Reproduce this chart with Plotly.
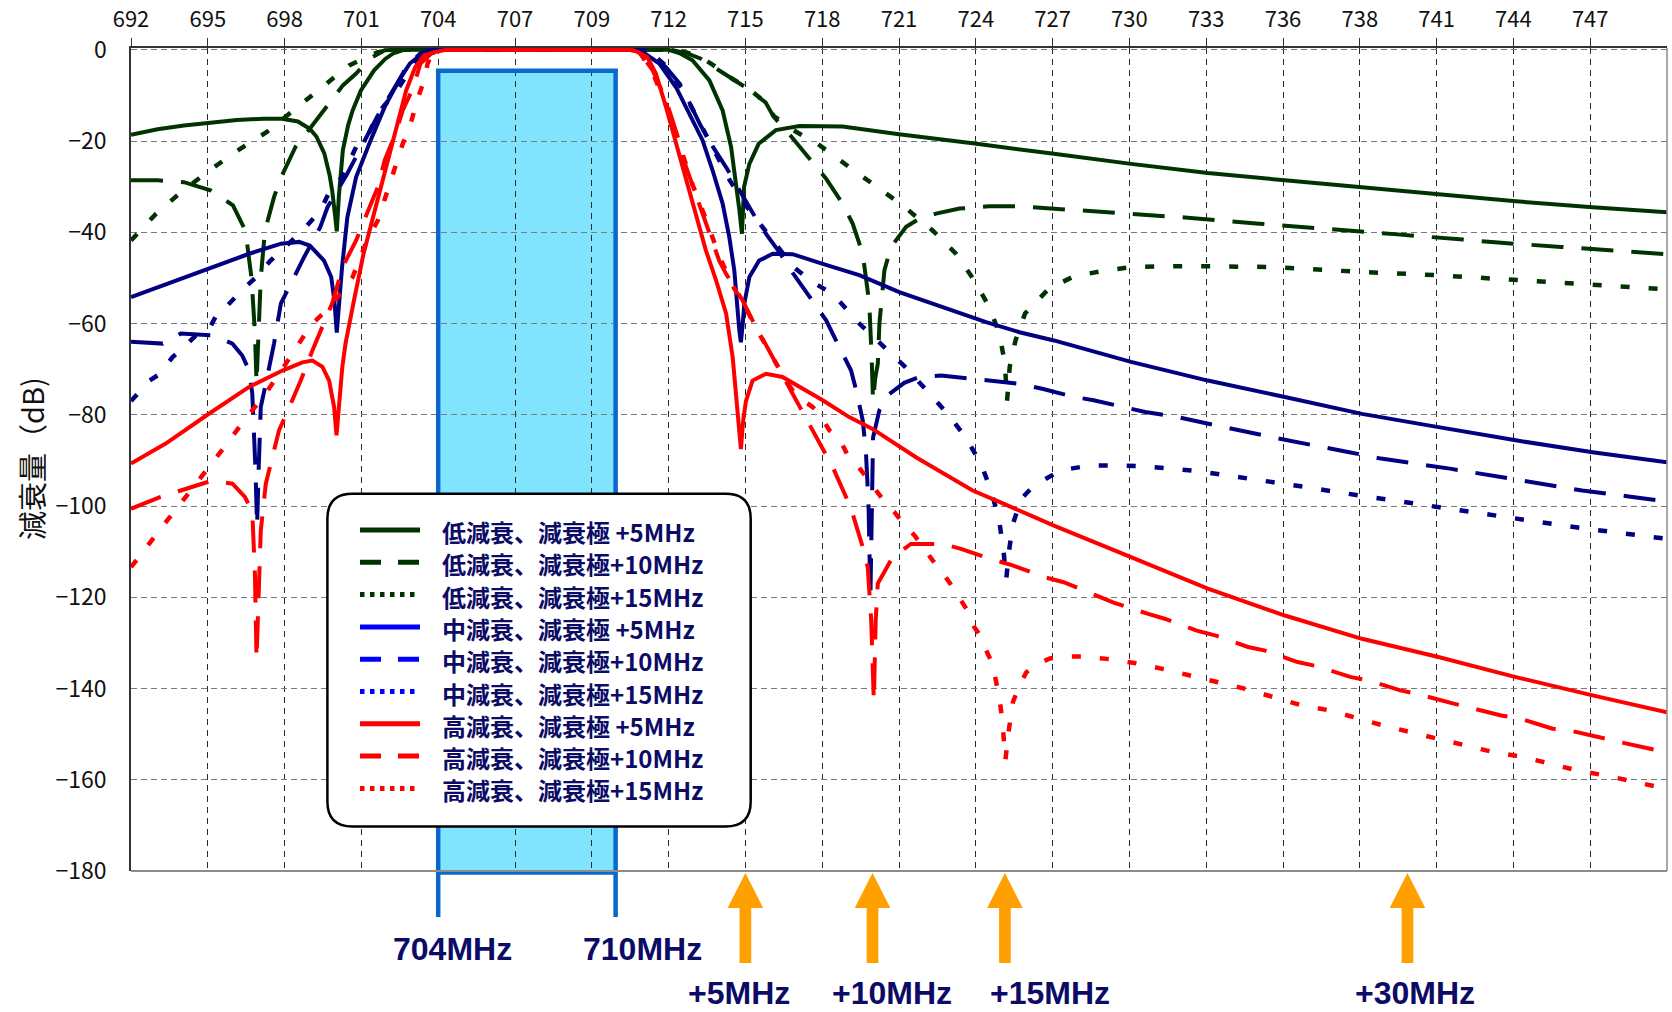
import plotly.graph_objects as go

# ---------------- data ----------------
X_TICK_VALUES = [692.0, 694.9, 697.8, 700.7, 703.6, 706.5, 709.4, 712.3, 715.2, 718.1,
                 721.0, 723.9, 726.8, 729.7, 732.6, 735.5, 738.4, 741.3, 744.2, 747.1]
X_TICK_LABELS = ["692", "695", "698", "701", "704", "707", "709", "712", "715", "718",
                 "721", "724", "727", "730", "733", "736", "738", "741", "744", "747"]
Y_TICK_VALUES = [0, -20, -40, -60, -80, -100, -120, -140, -160, -180]

low5_freq = [692.0, 693.0, 694.0, 695.0, 696.0, 697.0, 697.7, 698.3, 698.75, 699.0, 699.3, 699.5,
             699.6, 699.7, 699.77, 699.85, 699.92, 700.0, 700.2, 700.37, 700.68, 701.18, 701.6,
             701.9, 702.3, 712.3, 712.7, 713.2, 713.84, 714.34, 714.66, 714.84, 714.97, 715.07,
             715.15, 715.35, 715.7, 716.35, 717.24, 718.87, 721.0, 723.93, 724.8, 726.85, 729.76,
             732.66, 735.57, 738.48, 741.37, 744.29, 747.19, 750.0]
low5_db = [-18.6, -17.4, -16.6, -16.0, -15.4, -15.1, -15.1, -15.7, -17.3, -19.0, -22.7, -27.5,
           -31.0, -36.0, -39.8, -32.0, -26.5, -22.0, -16.5, -13.3, -8.9, -4.5, -2.0,
           -0.8, 0.0, 0.0, -0.7, -2.3, -6.7, -13.3, -21.3, -28.6, -35.0, -40.3,
           -30.0, -25.0, -20.6, -17.6, -16.7, -16.8, -18.5, -20.6, -21.3, -22.8, -25.0,
           -27.0, -28.6, -30.2, -31.8, -33.2, -34.5, -35.6]

low10_freq = [692.0, 693.0, 694.0, 695.0, 695.85, 696.32, 696.55, 696.68, 696.74, 696.8, 696.9,
              697.06, 697.4, 697.67, 698.21, 698.75, 699.56, 700.0, 700.5, 701.03, 701.58, 702.0,
              712.4, 713.0, 713.5, 714.0, 714.75, 715.2, 715.96, 716.27, 716.79, 717.61, 718.24,
              718.87, 719.25, 719.63, 719.88, 719.97, 720.02, 720.1, 720.2, 720.26, 720.45, 720.7,
              721.27, 721.77, 722.4, 723.28, 724.41, 725.55, 726.9, 728.2, 730.8, 731.9, 734.6,
              735.8, 738.5, 739.7, 742.3, 743.5, 746.0, 748.1, 750.0]
low10_db = [-28.6, -28.6, -29.0, -30.8, -34.1, -39.6, -50.0, -62.0, -73.0, -62.0, -50.0,
            -39.6, -32.3, -27.9, -21.3, -17.3, -11.1, -7.8, -5.2, -1.9, -0.1, 0.0,
            0.0, -0.8, -1.9, -3.8, -6.7, -8.2, -11.5, -14.7, -18.0, -23.9, -28.2,
            -33.7, -38.1, -44.7, -55.6, -68.0, -77.0, -72.0, -68.8, -60.0, -48.3, -43.2,
            -38.8, -37.0, -35.9, -34.8, -34.3, -34.3, -34.8, -35.3, -36.3, -36.8, -38.1,
            -38.6, -39.9, -40.4, -41.6, -42.2, -43.2, -44.0, -44.8]

low15_freq = [692.0, 692.95, 693.89, 694.97, 696.05, 697.13, 698.21, 699.16, 700.24, 701.32, 702.0,
              712.5, 713.0, 713.5, 714.0, 714.75, 715.2, 715.96, 716.27, 717.0, 717.93, 719.12,
              720.26, 721.14, 722.27, 723.15, 723.84, 724.41, 724.79, 725.0, 725.08, 725.18, 725.4,
              725.76, 726.65, 727.62, 728.68, 729.8, 731.9, 735.0, 738.15, 741.3, 744.46, 747.6, 750.0]
low15_db = [-41.8, -35.9, -31.2, -26.4, -22.0, -18.0, -12.9, -8.5, -3.4, -0.5, 0.0,
            0.0, -0.6, -1.6, -3.4, -6.5, -8.0, -11.5, -14.5, -17.6, -20.6, -25.7,
            -30.4, -34.1, -39.6, -44.7, -50.5, -56.4, -62.2, -68.8, -77.0, -69.5, -63.7,
            -57.8, -52.4, -49.6, -48.5, -47.6, -47.4, -47.6, -48.6, -49.4, -50.5, -51.6, -52.5]

mid5_freq = [692.0, 693.76, 695.1, 696.46, 697.67, 698.35, 698.75, 699.29, 699.56, 699.68, 699.77,
             699.86, 699.97, 700.17, 700.5, 701.05, 701.58, 702.12, 702.53, 703.07, 703.4,
             711.2, 711.95, 712.58, 713.08, 713.58, 713.96, 714.34, 714.59, 714.78, 714.97, 715.03,
             715.1, 715.16, 715.35, 715.72, 716.23, 716.98, 718.12, 719.5, 721.01, 722.65, 724.29,
             725.55, 726.85, 729.76, 732.66, 735.57, 738.48, 741.37, 744.29, 747.19, 750.0]
mid5_db = [-54.2, -50.5, -47.6, -44.7, -42.5, -42.1, -42.9, -46.2, -49.8, -55.0, -62.0,
           -55.0, -47.6, -36.7, -27.9, -19.8, -12.5, -6.7, -3.0, -0.5, 0.0,
           0.0, -3.0, -8.2, -14.0, -19.8, -26.4, -33.7, -41.0, -48.3, -61.5, -64.1,
           -60.0, -55.6, -49.8, -46.2, -44.7, -44.8, -46.9, -49.4, -53.1, -56.4, -59.7,
           -61.9, -63.7, -68.4, -72.5, -76.1, -79.8, -82.7, -85.6, -88.2, -90.4]

mid10_freq = [692.0, 693.2, 693.88, 695.07, 695.83, 696.2, 696.46, 696.58, 696.7, 696.76, 696.82,
              696.9, 697.09, 697.4, 697.66, 698.21, 698.54, 699.15, 699.42, 700.17, 700.5, 700.91,
              701.32, 702.12, 702.39, 702.92, 703.3, 711.4, 712.2, 712.83, 713.0, 713.5, 714.0,
              714.5, 715.0, 715.5, 716.0, 716.5, 717.0, 717.55, 718.25, 718.56, 719.19, 719.37,
              719.63, 719.75, 719.85, 719.92, 719.97, 720.02, 720.26, 720.64, 721.2, 721.77,
              722.59, 723.78, 724.54, 725.55, 726.41, 727.62, 728.35, 729.57, 730.3, 731.51,
              734.18, 735.32, 738.0, 739.2, 741.8, 743.0, 745.68, 746.8, 748.7, 750.0]
mid10_db = [-64.0, -64.4, -62.2, -62.6, -64.4, -67.0, -70.3, -75.4, -92.0, -104.4, -92.0,
            -78.3, -73.2, -64.4, -55.6, -49.0, -45.4, -38.8, -34.5, -27.1, -23.5, -19.1,
            -14.4, -6.7, -3.8, -0.8, 0.0, 0.0, -3.8, -8.2, -10.5, -16.5, -21.5,
            -26.0, -31.0, -36.0, -40.5, -44.5, -49.0, -53.5, -59.3, -63.0, -70.3, -74.3,
            -81.2, -88.0, -100.0, -120.0, -100.0, -85.0, -79.0, -75.4, -73.0, -71.7,
            -71.4, -72.1, -72.5, -73.2, -74.3, -76.1, -76.8, -78.3, -79.4, -80.5,
            -83.8, -85.2, -88.2, -89.6, -91.8, -92.9, -95.5, -96.6, -98.0, -99.0]

mid15_freq = [692.0, 692.7, 693.1, 693.56, 693.88, 694.57, 694.97, 695.32, 695.65, 696.19, 696.73,
              697.27, 697.67, 698.48, 699.16, 699.5, 699.97, 700.5, 700.92, 701.32, 702.12, 702.53,
              703.2, 703.5, 711.5, 712.2, 712.8, 713.4, 714.0, 714.6, 715.2, 715.8, 716.35, 717.0,
              717.7, 718.5, 719.5, 720.32, 721.23, 722.02, 722.84, 723.5, 724.1, 724.47, 724.78,
              724.95, 725.05, 725.15, 725.3, 725.6, 726.1, 727.1, 728.2, 729.2, 730.25, 731.3,
              732.35, 733.4, 734.5, 735.5, 736.55, 737.6, 738.65, 739.7, 740.75, 741.8, 742.85,
              743.9, 744.95, 746.0, 747.0, 748.05, 749.1, 750.0]
mid15_db = [-77.0, -72.5, -71.0, -67.4, -65.9, -61.9, -61.0, -57.1, -56.0, -52.7, -49.8,
            -46.2, -44.0, -39.6, -35.2, -31.0, -27.9, -21.3, -19.1, -14.0, -8.2, -4.5,
            -0.1, 0.0, 0.0, -3.5, -8.5, -15.0, -22.0, -28.5, -34.0, -38.5, -43.0, -47.5,
            -50.8, -53.5, -60.0, -64.4, -69.5, -74.5, -79.8, -84.8, -90.8, -96.5, -103.0,
            -110.0, -116.0, -110.0, -104.0, -98.5, -95.5, -92.2, -91.1, -91.1, -91.3, -91.8,
            -92.4, -93.3, -94.2, -95.1, -96.0, -97.0, -98.0, -98.8, -99.7, -100.6, -101.7,
            -102.5, -103.4, -104.2, -105.0, -105.7, -106.6, -107.2]

high5_freq = [692.0, 693.31, 694.86, 696.46, 697.72, 698.47, 698.85, 699.23, 699.48, 699.67, 699.76,
              699.86, 699.98, 700.1, 700.24, 700.42, 700.78, 701.18, 701.58, 701.99, 702.39, 702.73,
              703.07, 703.47, 703.9, 710.8, 711.07, 711.5, 711.82, 712.2, 712.58, 712.95, 713.33,
              713.71, 714.09, 714.47, 714.72, 714.84, 715.03, 715.12, 715.22, 715.47, 715.98,
              716.6, 717.24, 718.12, 719.12, 720.0, 721.64, 723.78, 724.79, 726.85, 729.76,
              732.66, 735.57, 738.48, 741.37, 744.29, 747.19, 750.0]
high5_db = [-90.7, -86.3, -80.1, -73.9, -70.3, -68.5, -68.1, -69.5, -72.5, -78.3, -84.5,
            -76.8, -69.5, -64.4, -60.0, -54.9, -44.7, -35.9, -27.1, -17.6, -8.9, -3.8,
            -1.2, -0.5, 0.0, 0.0, -0.3, -1.6, -5.2, -12.5, -20.6, -28.6, -36.7,
            -44.0, -50.5, -57.8, -67.4, -76.1, -87.5, -81.0, -77.0, -72.5, -71.0,
            -71.7, -73.9, -76.8, -80.5, -83.1, -89.3, -96.6, -99.1, -104.3, -111.2,
            -118.1, -124.0, -129.1, -133.1, -137.5, -141.5, -145.2]

high10_freq = [692.0, 693.12, 693.88, 695.07, 695.83, 696.3, 696.58, 696.68, 696.74, 696.82, 696.9,
               697.09, 697.4, 697.59, 698.09, 698.41, 698.85, 699.17, 699.6, 700.0, 700.5, 700.91,
               701.32, 701.58, 701.99, 702.26, 702.66, 702.93, 703.34, 703.8, 710.9, 711.2, 711.7,
               712.2, 712.7, 712.89, 713.46, 713.65, 714.21, 714.47, 715.09, 715.47, 716.1, 716.48,
               717.05, 717.49, 718.12, 718.5, 719.0, 719.25, 719.63, 719.82, 719.95, 720.05, 720.12,
               720.2, 720.76, 721.45, 722.65, 723.34, 724.47, 725.29, 726.49, 727.22, 728.44,
               729.08, 730.38, 731.03, 732.24, 732.97, 734.18, 734.83, 736.05, 736.77, 738.07,
               738.72, 739.93, 740.58, 741.87, 742.52, 743.74, 744.46, 745.68, 746.32, 747.62,
               748.27, 750.0]
high10_db = [-100.6, -98.0, -96.6, -94.4, -95.1, -98.0, -101.3, -115.0, -133.6, -118.0, -105.4,
             -95.1, -87.8, -83.4, -76.8, -72.5, -65.9, -61.5, -55.5, -47.5, -41.8, -35.9,
             -30.1, -24.2, -18.4, -13.3, -8.2, -3.0, -0.8, 0.0, 0.0, -0.5, -4.5,
             -11.0, -20.0, -24.5, -34.0, -37.4, -46.2, -49.1, -54.9, -59.3, -65.9, -70.3,
             -76.1, -80.5, -87.1, -91.5, -98.0, -101.7, -109.0, -113.4, -125.0, -142.8, -125.0,
             -117.0, -111.2, -108.3, -108.3, -109.4, -111.6, -113.0, -115.6, -116.7, -119.6,
             -121.1, -123.6, -124.7, -127.3, -128.4, -130.9, -131.7, -134.2, -135.1, -137.5,
             -138.2, -140.4, -141.2, -143.2, -144.1, -145.9, -146.6, -148.8, -149.2, -151.0,
             -151.8, -154.0]

high15_freq = [692.0, 692.2, 692.68, 692.87, 693.31, 693.56, 694.0, 694.4, 694.9, 695.6, 696.3,
               697.0, 697.6, 698.2, 698.8, 699.3, 699.9, 700.37, 700.91, 701.32, 701.72, 701.99,
               702.26, 702.53, 702.8, 703.07, 703.2, 703.34, 703.8, 710.9, 711.2, 711.7, 712.2,
               712.7, 713.2, 713.7, 714.2, 714.7, 715.2, 715.7, 716.2, 716.73, 717.11, 717.74,
               717.99, 718.37, 718.75, 719.06, 719.38, 720.0, 720.51, 720.82, 721.27, 721.58,
               722.02, 722.27, 722.71, 722.9, 723.34, 723.59, 723.84, 724.1, 724.35, 724.54,
               724.67, 724.79, 724.9, 725.02, 725.15, 725.3, 725.5, 725.8, 726.1, 726.7, 727.3,
               727.9, 728.84, 729.89, 730.95, 731.99, 733.05, 734.1, 735.15, 736.2, 737.26,
               738.31, 739.28, 740.33, 741.39, 742.44, 743.49, 744.55, 745.6, 746.65, 747.7,
               748.75, 750.0]
high15_db = [-113.4, -111.9, -108.3, -106.8, -103.2, -101.7, -98.5, -95.5, -92.0, -86.5, -81.0,
             -76.0, -71.0, -65.5, -60.3, -57.5, -53.5, -49.8, -41.8, -37.4, -30.1, -25.7,
             -20.6, -16.9, -11.1, -6.7, -3.0, -1.2, 0.0, 0.0, -0.5, -5.0, -12.0,
             -20.5, -29.5, -37.0, -45.0, -51.5, -56.5, -62.0, -67.0, -72.5, -75.8, -78.3,
             -79.8, -83.4, -85.2, -88.9, -90.7, -95.5, -99.5, -101.3, -104.6, -106.4,
             -110.1, -111.9, -115.2, -116.7, -120.7, -122.9, -126.5, -128.7, -132.4, -134.6,
             -138.6, -142.0, -147.0, -155.6, -149.0, -143.0, -140.0, -136.5, -135.0, -133.4, -133.0,
             -133.0, -133.5, -134.4, -135.7, -137.1, -138.6, -140.1, -141.9, -143.7, -144.8,
             -146.6, -148.1, -149.6, -151.0, -152.5, -154.0, -155.0, -156.5, -158.0, -159.1,
             -160.5, -162.0]

series_names = ["低減衰、減衰極 +5MHz", "低減衰、減衰極+10MHz", "低減衰、減衰極+15MHz",
                "中減衰、減衰極 +5MHz", "中減衰、減衰極+10MHz", "中減衰、減衰極+15MHz",
                "高減衰、減衰極 +5MHz", "高減衰、減衰極+10MHz", "高減衰、減衰極+15MHz"]
series_freq = [low5_freq, low10_freq, low15_freq, mid5_freq, mid10_freq, mid15_freq,
               high5_freq, high10_freq, high15_freq]
series_db = [low5_db, low10_db, low15_db, mid5_db, mid10_db, mid15_db,
             high5_db, high10_db, high15_db]

band_edges = [703.6, 710.3]
band_top_db = -4.6
band_labels = ["704MHz", "710MHz"]
band_label_freq = [704.15, 711.3]
offset_freqs = [715.2, 720.0, 725.0, 740.2]
offset_labels = ["+5MHz", "+10MHz", "+15MHz", "+30MHz"]
offset_label_freq = [714.95, 720.75, 726.7, 740.5]
y_title = "減衰量（dB)"

# ---------------- styling / layout ----------------
W, H = 1672, 1012
ML, MR, MT, MB = 131, 5, 48, 141
PW, PH = W - ML - MR, H - MT - MB
X_RANGE = [692, 750]
Y_RANGE = [-180, 0.4]
FONT = "Noto Sans CJK JP, Noto Sans, sans-serif"
LABEL_FONT = "Liberation Sans, Arial, sans-serif"
NAVY_TEXT = "#0c0c66"

GROUP_COLORS = ["#003300", "#003300", "#003300", "#000080", "#000080", "#000080",
                "#FF0000", "#FF0000", "#FF0000"]
LEGEND_COLORS = ["#003300", "#003300", "#003300", "#0000FF", "#0000FF", "#0000FF",
                 "#FF0000", "#FF0000", "#FF0000"]
DASHES = ["solid", "32px,18px", "9px,19px"] * 3
LEGEND_DASHES = ["solid", "21px,17px", "4.5px,5.5px"] * 3
WIDTHS = [4.0, 4.0, 4.5] * 3


def px(x):
    return (x - ML) / PW


def py(y):
    return (H - MB - y) / PH


fig = go.Figure()
for name, fx, dy, col, dash, wd in zip(series_names, series_freq, series_db,
                                        GROUP_COLORS, DASHES, WIDTHS):
    fig.add_trace(go.Scatter(x=fx, y=dy, mode="lines", name=name,
                             line=dict(color=col, width=wd, dash=dash),
                             showlegend=False, hoverinfo="skip"))

shapes = []
annotations = []

# pass band box
shapes.append(dict(type="rect", xref="x", yref="y", x0=band_edges[0], x1=band_edges[1],
                   y0=-180, y1=band_top_db, fillcolor="#80E4FF", line=dict(width=0),
                   layer="below"))
y_top_pix = MT + (Y_RANGE[1] - band_top_db) / (Y_RANGE[1] - Y_RANGE[0]) * PH
bx0, bx1 = band_edges
path = (f"M {bx0},{py(917)} L {bx0},{py(y_top_pix)} L {bx1},{py(y_top_pix)} L {bx1},{py(917)} "
        f"M {bx0},{py(872.5)} L {bx1},{py(872.5)}")
shapes.append(dict(type="path", xref="x", yref="paper", path=path,
                   line=dict(color="#0A68CC", width=4.5), layer="above"))

# bottom and right frame lines
shapes.append(dict(type="line", xref="paper", yref="paper", x0=0, x1=1, y0=0, y1=0,
                   line=dict(color="#8c8c8c", width=2)))
shapes.append(dict(type="line", xref="paper", yref="paper", x0=1, x1=1, y0=0, y1=1,
                   line=dict(color="#8c8c8c", width=1.5)))

# orange arrows
hw_head = 17.8 / PW * (X_RANGE[1] - X_RANGE[0])
hw_shaft = 5.85 / PW * (X_RANGE[1] - X_RANGE[0])
for f in offset_freqs:
    p = (f"M {f - hw_shaft},{py(963)} L {f - hw_shaft},{py(908)} L {f - hw_head},{py(908)} "
         f"L {f},{py(873)} L {f + hw_head},{py(908)} L {f + hw_shaft},{py(908)} "
         f"L {f + hw_shaft},{py(963)} Z")
    shapes.append(dict(type="path", xref="x", yref="paper", path=p,
                       fillcolor="#FFA000", line=dict(width=0)))

for lab, f in zip(band_labels, band_label_freq):
    annotations.append(dict(text=lab, x=f, y=py(949), xref="x", yref="paper",
                            showarrow=False, xanchor="center", yanchor="middle",
                            borderpad=0,
                            font=dict(family=LABEL_FONT, size=32, color=NAVY_TEXT, weight=700)))
for lab, f in zip(offset_labels, offset_label_freq):
    annotations.append(dict(text=lab, x=f, y=py(1011.5), xref="x", yref="paper",
                            showarrow=False, xanchor="center", yanchor="bottom",
                            borderpad=0,
                            font=dict(family=LABEL_FONT, size=32, color=NAVY_TEXT, weight=700)))

# y axis title
annotations.append(dict(text=y_title, x=px(31), y=py(459), xref="paper", yref="paper",
                        showarrow=False, textangle=-90, xanchor="center", yanchor="middle",
                        font=dict(family=FONT, size=29, color="#111111")))

# custom legend with rounded frame
LX0, LX1, LY0, LY1, R = 327.4, 750.7, 493.7, 826.4, 25


def pt(x, y):
    return f"{px(x)},{py(y)}"


rpath = (f"M {pt(LX0 + R, LY0)} L {pt(LX1 - R, LY0)} Q {pt(LX1, LY0)} {pt(LX1, LY0 + R)} "
         f"L {pt(LX1, LY1 - R)} Q {pt(LX1, LY1)} {pt(LX1 - R, LY1)} "
         f"L {pt(LX0 + R, LY1)} Q {pt(LX0, LY1)} {pt(LX0, LY1 - R)} "
         f"L {pt(LX0, LY0 + R)} Q {pt(LX0, LY0)} {pt(LX0 + R, LY0)} Z")
shapes.append(dict(type="path", xref="paper", yref="paper", path=rpath,
                   fillcolor="white", line=dict(color="black", width=2.5), layer="above"))
for i, (name, col, dash) in enumerate(zip(series_names, LEGEND_COLORS, LEGEND_DASHES)):
    yrow = 530 + 32.3 * i
    shapes.append(dict(type="line", xref="paper", yref="paper", x0=px(360), x1=px(420),
                       y0=py(yrow), y1=py(yrow), line=dict(color=col, width=5, dash=dash),
                       layer="above"))
    annotations.append(dict(text=name, x=px(441), y=py(yrow + 1), xref="paper", yref="paper",
                            showarrow=False, xanchor="left", yanchor="middle",
                            height=30, borderpad=0, valign="middle",
                            font=dict(family=FONT, size=24, color=NAVY_TEXT, weight=700)))

fig.update_layout(
    width=W, height=H,
    margin=dict(l=ML, r=MR, t=MT, b=MB, autoexpand=False),
    paper_bgcolor="white", plot_bgcolor="white",
    font=dict(family=FONT, color="#111111"),
    showlegend=False,
    shapes=shapes, annotations=annotations,
    xaxis=dict(range=X_RANGE, side="top", tickmode="array", tickvals=X_TICK_VALUES,
               ticktext=X_TICK_LABELS, showgrid=True, gridcolor="#2a2a2a", gridwidth=1,
               griddash="6px,5px", showline=True, linecolor="#333333", linewidth=1.5,
               ticks="outside", ticklen=8, tickcolor="#333333", tickwidth=1,
               tickfont=dict(family=FONT, size=22, color="#111111"), zeroline=False,
               automargin=False, ticklabelstandoff=2),
    yaxis=dict(range=Y_RANGE, tickmode="array", tickvals=Y_TICK_VALUES, showgrid=True,
               gridcolor="#7a7a7a", gridwidth=1, griddash="6px,4px", showline=True,
               linecolor="#333333", linewidth=1.5, ticks="outside", ticklen=18,
               tickcolor="rgba(0,0,0,0)", tickfont=dict(family=FONT, size=23, color="#111111"),
               zeroline=False, automargin=False),
)

fig.write_html("out.html")
